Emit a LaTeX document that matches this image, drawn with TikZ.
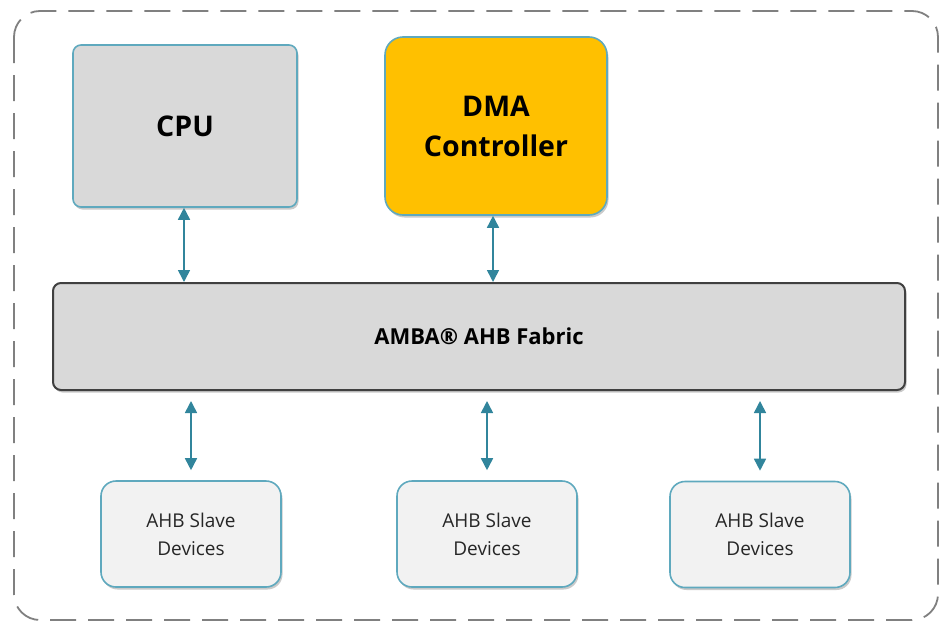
\documentclass[tikz,border=0pt]{standalone}
\usepackage{fontspec}
\setmainfont{Open Sans}
\usetikzlibrary{shadows,arrows.meta}
\definecolor{teal1}{HTML}{31859C}
\definecolor{tealb}{HTML}{5FA9BE}
\definecolor{grayf}{HTML}{D9D9D9}
\definecolor{lightf}{HTML}{F2F2F2}
\definecolor{dmaf}{HTML}{FFC000}
\tikzset{
  shad/.style={drop shadow={shadow xshift=1.5pt,shadow yshift=-2.5pt,opacity=0.35,fill=black!60}},
  topbox/.style={draw=tealb,line width=1.6pt,fill=grayf,rounded corners=8pt,shad,align=center,font=\bfseries\fontsize{28.5}{40}\selectfont},
  dmabox/.style={topbox,fill=dmaf,rounded corners=18pt},
  fabbox/.style={draw=black!75,line width=2pt,fill=grayf,rounded corners=8pt,shad,font=\bfseries\fontsize{22}{28}\selectfont},
  slavebox/.style={draw=tealb,line width=1.6pt,fill=lightf,rounded corners=15pt,shad,align=center,text=black!85,font=\fontsize{19}{28}\selectfont},
  link/.style={draw=teal1,line width=1.6pt,{Triangle[length=12pt,width=12pt]}-{Triangle[length=12pt,width=12pt]},fill=teal1}
}
\begin{document}
\begin{tikzpicture}[x=1pt,y=-1pt]
\useasboundingbox (0,0) rectangle (941,624);
\draw[black!50,line width=1.8pt,dash pattern=on 26pt off 12pt,rounded corners=26pt] (14,11) rectangle (938,620);
\node[topbox,minimum width=224pt,minimum height=162pt] (cpu) at (185,126) {CPU};
\node[dmabox,minimum width=222pt,minimum height=178pt] (dma) at (496,126) {DMA\\Controller};
\node[fabbox,minimum width=852pt,minimum height=107pt] (fab) at (479,336.5) {AMBA® AHB Fabric};
\node[slavebox,minimum width=180pt,minimum height=106pt] (s1) at (191,534) {AHB Slave\\Devices};
\node[slavebox,minimum width=180pt,minimum height=106pt] (s2) at (487,534) {AHB Slave\\Devices};
\node[slavebox,minimum width=180pt,minimum height=106pt] (s3) at (760,534.5) {AHB Slave\\Devices};
\coordinate (c1) at (184,0);
\coordinate (c2) at (493,0);
\draw[link] (cpu.south -| c1) -- (fab.north -| c1);
\draw[link] (dma.south -| c2) -- (fab.north -| c2);
\draw[link,shorten <=10pt,shorten >=10pt] (fab.south -| s1.north) -- (s1.north);
\draw[link,shorten <=10pt,shorten >=10pt] (fab.south -| s2.north) -- (s2.north);
\draw[link,shorten <=10pt,shorten >=10pt] (fab.south -| s3.north) -- (s3.north);
\end{tikzpicture}
\end{document}
